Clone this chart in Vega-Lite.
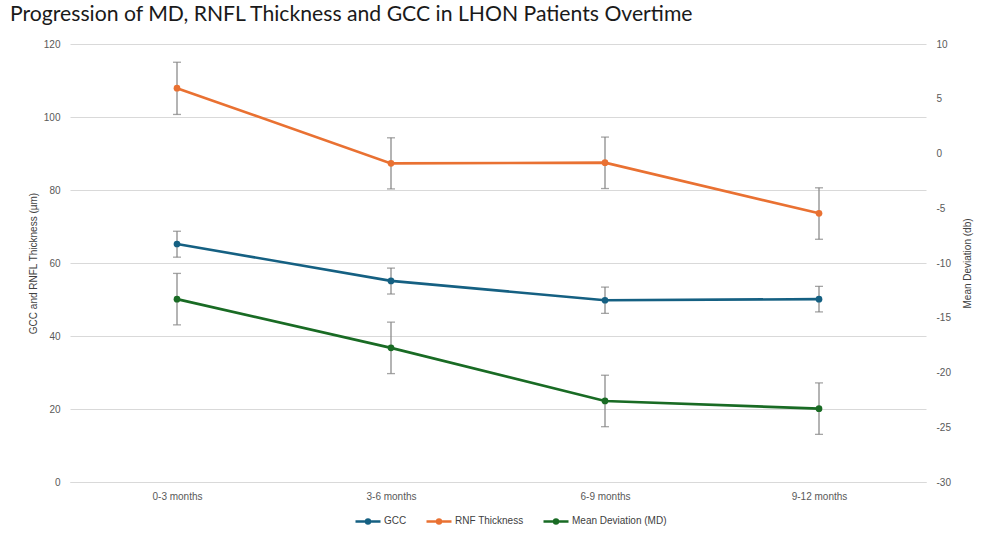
{
  "$schema": "https://vega.github.io/schema/vega-lite/v6.json",
  "autosize": "none",
  "width": 856,
  "height": 438,
  "padding": {"left": 70, "top": 44, "right": 70, "bottom": 65},
  "background": "white",
  "title": {
    "text": "Progression of MD, RNFL Thickness and GCC in LHON Patients Overtime",
    "anchor": "start",
    "frame": "group",
    "dx": -60,
    "offset": 14,
    "font": "Lato",
    "fontSize": 21.2,
    "fontWeight": "normal",
    "color": "#1a1a1a"
  },
  "config": {
    "view": {"stroke": null},
    "axis": {
      "labelFont": "Liberation Sans",
      "titleFont": "Liberation Sans",
      "labelFontSize": 10,
      "titleFontSize": 10,
      "labelColor": "#595959",
      "titleColor": "#404040",
      "titleFontWeight": "normal",
      "ticks": false,
      "domain": false
    },
    "legend": {
      "labelFont": "Liberation Sans",
      "labelFontSize": 10,
      "labelColor": "#404040"
    }
  },
  "data": {
    "values": [
      {"period": "0-3 months", "series": "GCC", "value": 65.2, "lo": 61.6, "hi": 68.7},
      {"period": "3-6 months", "series": "GCC", "value": 55.1, "lo": 51.5, "hi": 58.6},
      {"period": "6-9 months", "series": "GCC", "value": 49.8, "lo": 46.2, "hi": 53.4},
      {"period": "9-12 months", "series": "GCC", "value": 50.1, "lo": 46.6, "hi": 53.6},
      {"period": "0-3 months", "series": "RNF Thickness", "value": 107.9, "lo": 100.7, "hi": 115.0},
      {"period": "3-6 months", "series": "RNF Thickness", "value": 87.3, "lo": 80.3, "hi": 94.3},
      {"period": "6-9 months", "series": "RNF Thickness", "value": 87.5, "lo": 80.4, "hi": 94.5},
      {"period": "9-12 months", "series": "RNF Thickness", "value": 73.6, "lo": 66.5, "hi": 80.6},
      {"period": "0-3 months", "series": "Mean Deviation (MD)", "value": -13.3, "lo": -15.65, "hi": -10.95},
      {"period": "3-6 months", "series": "Mean Deviation (MD)", "value": -17.75, "lo": -20.1, "hi": -15.4},
      {"period": "6-9 months", "series": "Mean Deviation (MD)", "value": -22.6, "lo": -24.95, "hi": -20.25},
      {"period": "9-12 months", "series": "Mean Deviation (MD)", "value": -23.3, "lo": -25.65, "hi": -20.95}
    ]
  },
  "encoding": {
    "x": {
      "field": "period",
      "type": "nominal",
      "sort": ["0-3 months", "3-6 months", "6-9 months", "9-12 months"],
      "scale": {"type": "point", "padding": 0.5},
      "axis": {"title": null, "labelAngle": 0, "labelPadding": 9, "domain": true, "domainColor": "#d9d9d9"}
    }
  },
  "layer": [
    {
      "transform": [{"filter": "datum.series !== 'Mean Deviation (MD)'"}],
      "layer": [
        {
          "mark": {"type": "rule", "color": "#8c8c8c", "strokeWidth": 1.3},
          "encoding": {
            "y": {"field": "lo", "type": "quantitative", "scale": {"domain": [0, 120]},
              "axis": {"title": "GCC and RNFL Thickness (µm)", "values": [0, 20, 40, 60, 80, 100, 120], "grid": true, "gridColor": "#d9d9d9", "labelPadding": 10, "titlePadding": 5}},
            "y2": {"field": "hi"}
          }
        },
        {
          "mark": {"type": "tick", "color": "#7f7f7f", "thickness": 1.3, "size": 8},
          "encoding": {"y": {"field": "lo", "type": "quantitative"}}
        },
        {
          "mark": {"type": "tick", "color": "#7f7f7f", "thickness": 1.3, "size": 8},
          "encoding": {"y": {"field": "hi", "type": "quantitative"}}
        },
        {
          "mark": {"type": "line", "strokeWidth": 2.6, "point": {"size": 45, "filled": true, "opacity": 1}},
          "encoding": {
            "y": {"field": "value", "type": "quantitative"},
            "color": {
              "field": "series", "type": "nominal",
              "scale": {"domain": ["GCC", "RNF Thickness", "Mean Deviation (MD)"], "range": ["#156082", "#e97132", "#196b24"]},
              "legend": {
                "title": null, "orient": "none", "legendX": 284, "legendY": 463, "direction": "horizontal",
                "symbolType": "M-1,0H1M0.15,0A0.15,0.15,0,1,1,-0.15,0A0.15,0.15,0,1,1,0.15,0",
                "symbolSize": 625, "symbolStrokeWidth": 2.6, "labelOffset": 2, "columnPadding": 14
              }
            }
          }
        }
      ]
    },
    {
      "transform": [{"filter": "datum.series === 'Mean Deviation (MD)'"}],
      "layer": [
        {
          "mark": {"type": "rule", "color": "#8c8c8c", "strokeWidth": 1.3},
          "encoding": {
            "y": {"field": "lo", "type": "quantitative", "scale": {"domain": [-30, 10]},
              "axis": {"orient": "right", "title": "Mean Deviation (db)", "titleAngle": 270, "values": [-30, -25, -20, -15, -10, -5, 0, 5, 10], "labelExpr": "replace(datum.label, '\u2212', '-')", "grid": false, "labelPadding": 10, "titlePadding": 22}},
            "y2": {"field": "hi"}
          }
        },
        {
          "mark": {"type": "tick", "color": "#7f7f7f", "thickness": 1.3, "size": 8},
          "encoding": {"y": {"field": "lo", "type": "quantitative"}}
        },
        {
          "mark": {"type": "tick", "color": "#7f7f7f", "thickness": 1.3, "size": 8},
          "encoding": {"y": {"field": "hi", "type": "quantitative"}}
        },
        {
          "mark": {"type": "line", "strokeWidth": 2.6, "point": {"size": 45, "filled": true, "opacity": 1}},
          "encoding": {
            "y": {"field": "value", "type": "quantitative"},
            "color": {"field": "series", "type": "nominal"}
          }
        }
      ]
    }
  ],
  "resolve": {"scale": {"y": "independent"}}
}
